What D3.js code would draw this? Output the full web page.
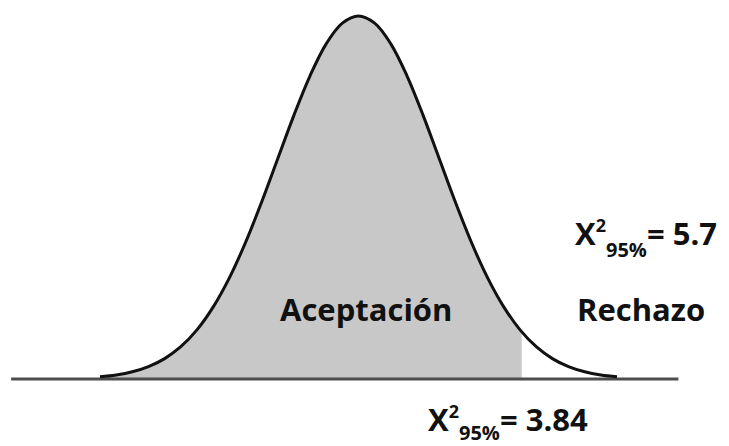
<!DOCTYPE html>
<html>
<head>
<meta charset="utf-8">
<script src="https://cdn.jsdelivr.net/npm/d3@7"></script>
<style>
  html, body { margin: 0; padding: 0; background: #fff; }
  svg { display: block; }
  text { font-family: "Open Sans", "Lato", sans-serif; font-weight: 700; fill: #111; }
</style>
</head>
<body>
<svg id="chart" width="729" height="446"></svg>
<script>
// standardized positions along the curve
const zValues = [-3.2, -3.0, -2.8, -2.6, -2.4, -2.2, -2.0, -1.8, -1.6, -1.4, -1.2, -1.0, -0.8, -0.6, -0.4, -0.2, 0,
                 0.2, 0.4, 0.6, 0.8, 1.0, 1.2, 1.4, 1.6, 1.8, 2.0, 2.2, 2.4, 2.6, 2.8, 3.0, 3.2];
// curve heights
const density = [0.0024, 0.0044, 0.0079, 0.0136, 0.0224, 0.0355, 0.0540, 0.0790, 0.1109, 0.1497, 0.1942, 0.2420, 0.2897, 0.3332, 0.3683, 0.3910, 0.3989,
                 0.3910, 0.3683, 0.3332, 0.2897, 0.2420, 0.1942, 0.1497, 0.1109, 0.0790, 0.0540, 0.0355, 0.0224, 0.0136, 0.0079, 0.0044, 0.0024];
const criticalZ = 2.02;           // end of the acceptance region
const baselineExtent = [-4.3, 3.96];
const regionLabels = ["Aceptación", "Rechazo"];
const statLabels = [
  { base: "X", sup: "2", sub: "95%", rest: "= 5.7" },
  { base: "X", sup: "2", sub: "95%", rest: "= 3.84" }
];

const svg = d3.select("#chart");
const x = d3.scaleLinear().domain([-3.2, 3.2]).range([100, 617]);
const y = d3.scaleLinear().domain([0, 0.3989]).range([379, 16]);

const pts = zValues.map((z, i) => ({ z, d: density[i] }));

svg.append("defs").append("clipPath").attr("id", "accept")
  .append("rect")
  .attr("x", x(zValues[0]) - 5).attr("y", 0)
  .attr("width", x(criticalZ) - x(zValues[0]) + 5)
  .attr("height", y(0));

const area = d3.area().x(p => x(p.z)).y0(y(0)).y1(p => y(p.d)).curve(d3.curveCatmullRom);
svg.append("path").datum(pts)
  .attr("d", area)
  .attr("fill", "#c8c8c8")
  .attr("clip-path", "url(#accept)");

svg.append("line")
  .attr("x1", x(baselineExtent[0])).attr("x2", x(baselineExtent[1]))
  .attr("y1", y(0)).attr("y2", y(0))
  .attr("stroke", "#4d4d4d").attr("stroke-width", 3);

const line = d3.line().x(p => x(p.z)).y(p => y(p.d)).curve(d3.curveCatmullRom);
svg.append("path").datum(pts)
  .attr("d", line)
  .attr("fill", "none")
  .attr("stroke", "#111")
  .attr("stroke-width", 3);

// region labels
svg.append("text").attr("x", 280).attr("y", 321).attr("font-size", 31).text(regionLabels[0]);
svg.append("text").attr("x", 577).attr("y", 321).attr("font-size", 31).text(regionLabels[1]);

function statLabel(lbl, px, py, subDrop) {
  const t = svg.append("text").attr("x", px).attr("y", py).attr("font-size", 31);
  t.append("tspan").text(lbl.base);
  t.append("tspan").attr("font-size", 18).attr("dy", -13).text(lbl.sup);
  t.append("tspan").attr("font-size", 20).attr("dy", 13 + subDrop).text(lbl.sub);
  t.append("tspan").attr("dy", -subDrop).text(lbl.rest);
}
statLabel(statLabels[0], 575, 245, 12);
statLabel(statLabels[1], 428, 431, 9);
</script>
</body>
</html>
